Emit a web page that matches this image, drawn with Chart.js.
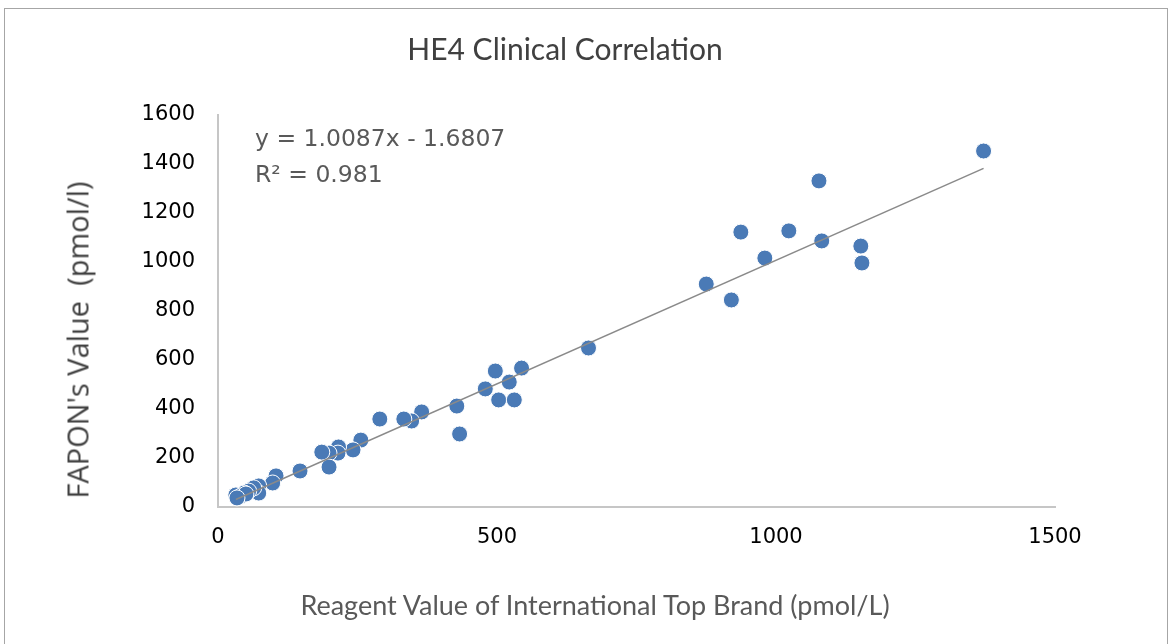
<!DOCTYPE html>
<html>
<head>
<meta charset="utf-8">
<script src="https://cdn.jsdelivr.net/npm/chart.js@4"></script>
<style>
    html, body { margin: 0; padding: 0; background: #fff; }
    #wrap { position: relative; width: 1172px; height: 644px; overflow: hidden; }
    #frame { position: absolute; left: 4px; top: 8px; width: 1164px; height: 660px; border: 1.5px solid #a6a6a6; box-sizing: border-box; }
    canvas { position: absolute; left: 0; top: 0; }
    .txt { position: absolute; white-space: nowrap; }
    #title { left: 0; width: 1130px; top: 30px; text-align: center; font: 30px Lato, "Open Sans", sans-serif; color: #404040; }
    #xTitle { left: 0; width: 1190px; top: 588px; text-align: center; font: 27px Lato, "Open Sans", sans-serif; color: #595959; }
    #yTitle { left: 77px; top: 340px; transform: translate(-50%, -50%) rotate(-90deg); font: 29px "Open Sans", sans-serif; color: #404040; }
    #eq { left: 255px; top: 120px; font: 23.5px "DejaVu Sans", sans-serif; color: #595959; line-height: 36px; }
</style>
</head>
<body>
<div id="wrap">
    <div id="frame"></div>
    <canvas id="he4Chart" width="1172" height="644"></canvas>
    <div class="txt" id="title">HE4 Clinical Correlation</div>
    <div class="txt" id="xTitle">Reagent Value of International Top Brand (pmol/L)</div>
    <div class="txt" id="yTitle">FAPON's Value&nbsp;&nbsp;(pmol/l)</div>
    <div class="txt" id="eq">y = 1.0087x - 1.6807<br>R² = 0.981</div>
</div>
<script>
// reference brand value (x) vs FAPON value (y)
const refValues = [1372, 1077, 937, 1023, 1082, 980, 1152, 1154, 875, 920,
    664, 497, 544, 522, 479, 503, 531, 428, 433, 365,
    347, 333, 290, 256, 242, 216, 215, 199, 186, 199,
    147, 104, 98, 73, 73, 64, 55, 47, 38, 32, 41, 50, 34];
const faponValues = [1453, 1331, 1122, 1127, 1086, 1016, 1065, 996, 910, 845,
    649, 555, 567, 510, 482, 437, 437, 412, 298, 388,
    351, 359, 359, 273, 233, 245, 220, 220, 224, 163,
    147, 127, 98, 86, 57, 78, 65, 57, 41, 49, 45, 53, 37];

// linear trendline end points
const trendX = [32, 1372];
const trendY = [30.6, 1382.3];

const xTicks = [0, 500, 1000, 1500];
const yTicks = [0, 200, 400, 600, 800, 1000, 1200, 1400, 1600];

const points = refValues.map((x, i) => ({ x: x, y: faponValues[i] }));
const trend = trendX.map((x, i) => ({ x: x, y: trendY[i] }));

const tickFont = { family: '"DejaVu Sans", sans-serif', size: 21 };
const axisColor = '#c6c6c6';

new Chart(document.getElementById('he4Chart'), {
    type: 'scatter',
    data: {
        datasets: [
            {
                type: 'line',
                data: trend,
                borderColor: '#8a8a8a',
                borderWidth: 1.5,
                pointRadius: 0,
                fill: false,
                order: 0
            },
            {
                data: points,
                backgroundColor: '#4a7ab6',
                borderColor: '#ffffff',
                borderWidth: 1,
                pointRadius: 8,
                order: 1
            }
        ]
    },
    options: {
        responsive: false,
        animation: false,
        events: [],
        layout: { padding: { left: 0, top: 115, right: 117, bottom: 0 } },
        plugins: {
            legend: { display: false },
            tooltip: { enabled: false }
        },
        scales: {
            x: {
                type: 'linear',
                min: xTicks[0],
                max: xTicks[xTicks.length - 1],
                afterBuildTicks: s => { s.ticks = xTicks.map(v => ({ value: v })); },
                afterFit: s => { s.height = 644 - 507; },
                grid: { display: false, drawTicks: false },
                border: { display: true, color: axisColor, width: 2 },
                ticks: { color: '#000', font: tickFont, padding: 18, maxRotation: 0, callback: v => String(v) }
            },
            y: {
                type: 'linear',
                min: yTicks[0],
                max: yTicks[yTicks.length - 1],
                afterBuildTicks: s => { s.ticks = yTicks.map(v => ({ value: v })); },
                afterFit: s => { s.width = 218; },
                grid: { display: false, drawTicks: false },
                border: { display: true, color: axisColor, width: 2 },
                ticks: { color: '#000', font: tickFont, padding: 23, callback: v => String(v) }
            }
        }
    }
});
</script>
</body>
</html>
